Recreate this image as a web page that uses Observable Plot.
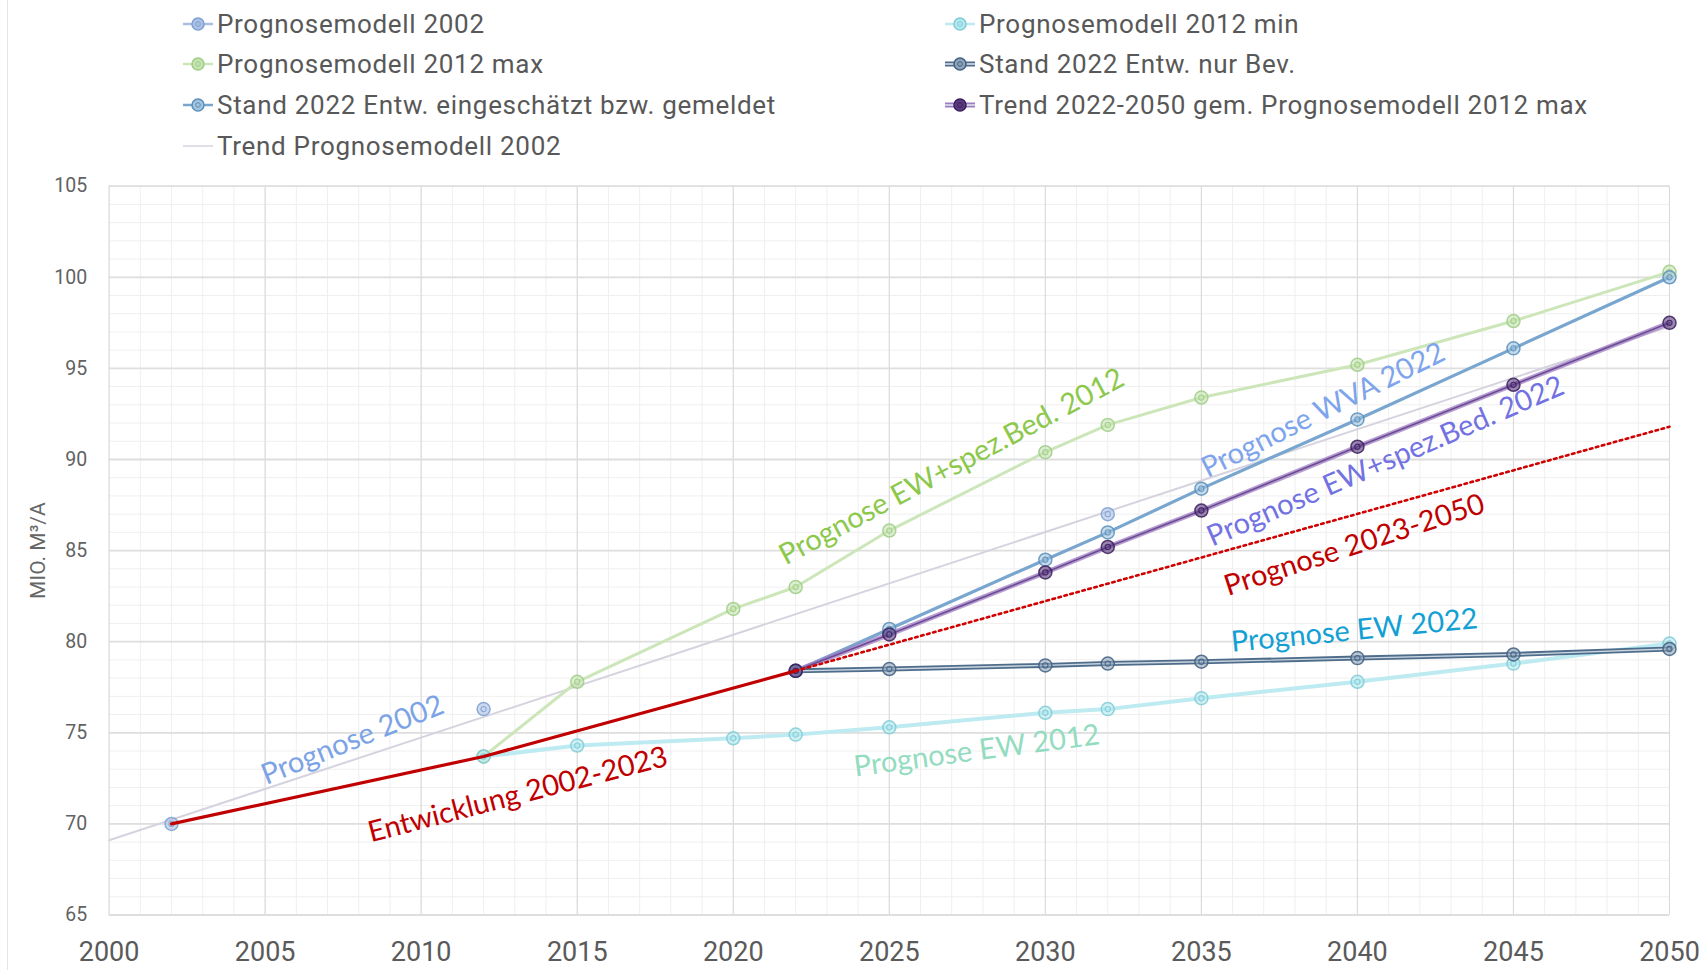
<!DOCTYPE html>
<html><head><meta charset="utf-8">
<script src="https://cdn.jsdelivr.net/npm/d3@7"></script>
<script src="https://cdn.jsdelivr.net/npm/@observablehq/plot@0.6"></script>
<style>
body{margin:0;background:#fff;width:1703px;height:970px;overflow:hidden;position:relative;font-family:Roboto,"Liberation Sans",sans-serif;}
#border{position:absolute;left:7px;top:0;width:1px;height:970px;background:#e4e4e4;}
#legend{position:relative;height:165px;}
.item{position:absolute;display:flex;align-items:center;font-size:26px;letter-spacing:0.7px;color:#585858;white-space:nowrap;height:36px;}
.item svg{margin-right:3px;flex:none}
#chart{position:relative}
</style></head><body>
<div id="border"></div>
<div id="legend"></div>
<div id="chart"></div>
<script>
// ---- data ----
const years2002 = [2002, 2012, 2032];
const model2002 = [70.0, 76.3, 87.0];

const years2012 = [2012, 2015, 2020, 2022, 2025, 2030, 2032, 2035, 2040, 2045, 2050];
const max2012 = [73.7, 77.8, 81.8, 83.0, 86.1, 90.4, 91.9, 93.4, 95.2, 97.6, 100.3];
const min2012 = [73.7, 74.3, 74.7, 74.9, 75.3, 76.1, 76.3, 76.9, 77.8, 78.8, 79.9];

const years2022 = [2022, 2025, 2030, 2032, 2035, 2040, 2045, 2050];
const nurBev = [78.4, 78.5, 78.7, 78.8, 78.9, 79.1, 79.3, 79.6];
const eingeschaetzt = [78.4, 80.7, 84.5, 86.0, 88.4, 92.2, 96.1, 100.0];
const trend2022 = [78.4, 80.4, 83.8, 85.2, 87.2, 90.7, 94.1, 97.5];

const trendYears2002 = [2000, 2050];
const trend2002 = [69.1, 97.3];

const entwYears = [2002, 2012, 2022];
const entwicklung = [70.0, 73.7, 78.4];
const progYears = [2022, 2050];
const prognose = [78.4, 91.8];

const xTicks = [2000, 2005, 2010, 2015, 2020, 2025, 2030, 2035, 2040, 2045, 2050];
const yTicks = [65, 70, 75, 80, 85, 90, 95, 100, 105];
const minorX = d3.range(2000, 2051);
const minorY = d3.range(65, 106);

const legendLabels = [
  "Prognosemodell 2002", "Prognosemodell 2012 min",
  "Prognosemodell 2012 max", "Stand 2022 Entw. nur Bev.",
  "Stand 2022 Entw. eingeschätzt bzw. gemeldet", "Trend 2022-2050 gem. Prognosemodell 2012 max",
  "Trend Prognosemodell 2002"
];

const annotations = [
  {label: "Prognose 2002", x: 2007.8, y: 74.6, angle: -22, color: "#7ba3e6"},
  {label: "Entwicklung 2002-2023", x: 2013.1, y: 71.6, angle: -14.5, color: "#c00000"},
  {label: "Prognose EW+spez.Bed. 2012", x: 2027.0, y: 89.6, angle: -28, color: "#8cc84b"},
  {label: "Prognose WVA 2022", x: 2038.9, y: 92.7, angle: -26.5, color: "#7ea4ec"},
  {label: "Prognose EW+spez.Bed. 2022", x: 2040.9, y: 89.9, angle: -23.5, color: "#7272e2"},
  {label: "Prognose 2023-2050", x: 2039.9, y: 85.3, angle: -18, color: "#c00000"},
  {label: "Prognose EW 2022", x: 2039.9, y: 80.6, angle: -5.5, color: "#12a0d4"},
  {label: "Prognose EW 2012", x: 2027.8, y: 74.0, angle: -7.5, color: "#93dcbf"}
];

const tbl = (xs, ys) => xs.map((year, i) => ({year, value: ys[i]}));
const d2002 = tbl(years2002, model2002);
const dMax = tbl(years2012, max2012);
const dMin = tbl(years2012, min2012);
const dBev = tbl(years2022, nurBev);
const dEin = tbl(years2022, eingeschaetzt);
const dTr22 = tbl(years2022, trend2022);
const dTr02 = tbl(trendYears2002, trend2002);
const dEntw = tbl(entwYears, entwicklung);
const dProg = tbl(progYears, prognose);

// ---- styles ----
const S = {
  m2002: {fill: "#aac1e4", stroke: "#7f9fd2", line: "#a9bfe2"},
  max: {fill: "#c6e4b2", stroke: "#9fcd85", line: "#cce6ba"},
  min: {fill: "#b3e8ee", stroke: "#80cbd6", line: "#bdebf1"},
  bev: {fill: "#8ea4ba", stroke: "#405f80", line: "#4f6d8b"},
  ein: {fill: "#a2c4df", stroke: "#5a8fba", line: "#78a6cf"},
  tr22: {fill: "#5b3a80", stroke: "#3a1e5c", line: "#9d7cc3"},
  tr02: {line: "#d6d3df"}
};

// ---- legend ----
const legend = document.getElementById("legend");
const legendDefs = [
  {label: legendLabels[0], s: S.m2002, col: 0, row: 0},
  {label: legendLabels[1], s: S.min, col: 1, row: 0},
  {label: legendLabels[2], s: S.max, col: 0, row: 1},
  {label: legendLabels[3], s: S.bev, col: 1, row: 1, dbl: true},
  {label: legendLabels[4], s: S.ein, col: 0, row: 2},
  {label: legendLabels[5], s: S.tr22, col: 1, row: 2, dbl: true},
  {label: legendLabels[6], s: S.tr02, col: 0, row: 3, nomark: true}
];
const rowY = [24, 64, 105, 145.5];
const colX = [182, 944];
for (const d of legendDefs) {
  const el = document.createElement("div");
  el.className = "item";
  el.style.left = colX[d.col] + "px";
  el.style.top = (rowY[d.row] - 18) + "px";
  let sw = `<svg width="32" height="20" viewBox="0 0 32 20">`;
  if (d.dbl) {
    sw += `<line x1="1" x2="31" y1="10" y2="10" stroke="${d.s.line}" stroke-width="5"/>`;
    sw += `<line x1="1" x2="31" y1="10" y2="10" stroke="#dfe6ee" stroke-width="1.5"/>`;
  } else {
    sw += `<line x1="1" x2="31" y1="10" y2="10" stroke="${d.s.line}" stroke-width="${d.nomark ? 1.5 : 2.5}"/>`;
  }
  if (!d.nomark) {
    sw += `<circle cx="16" cy="10" r="6" fill="${d.s.fill}" stroke="${d.s.stroke}" stroke-width="1.5"/>`;
    sw += `<circle cx="16" cy="10" r="2.3" fill="none" stroke="${d.s.stroke}" stroke-width="1"/>`;
  }
  sw += `</svg>`;
  el.innerHTML = sw + `<span>${d.label}</span>`;
  legend.appendChild(el);
}

// ---- chart ----
const dots = (data, s) => [
  Plot.dot(data, {x: "year", y: "value", r: 6.5, fill: s.fill, fillOpacity: 0.6, stroke: s.stroke, strokeWidth: 1.5, strokeOpacity: 0.85}),
  Plot.dot(data, {x: "year", y: "value", r: 2.6, fill: "none", stroke: s.stroke, strokeWidth: 1.1, strokeOpacity: 0.85})
];

const chart = Plot.plot({
  width: 1703,
  height: 805,
  marginTop: 20.7,
  marginBottom: 55.5,
  marginLeft: 108.6,
  marginRight: 34,
  style: {fontFamily: "Roboto, 'Liberation Sans', sans-serif", background: "transparent", overflow: "visible"},
  x: {domain: [2000, 2050]},
  y: {domain: [65, 105]},
  marks: [
    Plot.ruleX(minorX, {stroke: "#efefef", strokeWidth: 1}),
    Plot.ruleY(minorY, {stroke: "#efefef", strokeWidth: 1}),
    Plot.ruleX(xTicks, {stroke: "#dadada", strokeWidth: 1.1}),
    Plot.ruleY(yTicks, {stroke: "#dedede", strokeWidth: 1.8}),
    Plot.axisX({ticks: xTicks, tickSize: 0, tickPadding: 26.5, fontSize: 27, color: "#5a5a5a", tickFormat: d => String(d), label: null}),
    Plot.axisY({ticks: yTicks, tickSize: 0, tickPadding: 22, fontSize: 19.5, color: "#626262", label: null}),
    Plot.text(["MIO. M³/A"], {frameAnchor: "left", textAnchor: "middle", dx: -71, rotate: -90, fontSize: 21, fill: "#666", text: d => d, letterSpacing: "1.2px"}),

    Plot.line(dTr02, {x: "year", y: "value", stroke: S.tr02.line, strokeWidth: 2}),
    Plot.line(dMax, {x: "year", y: "value", stroke: S.max.line, strokeWidth: 3}),
    Plot.line(dMin, {x: "year", y: "value", stroke: S.min.line, strokeWidth: 4}),
    ...dots(dMax, S.max),
    ...dots(dMin, S.min),
    ...dots(d2002, S.m2002),
    Plot.line(dEin, {x: "year", y: "value", stroke: S.ein.line, strokeWidth: 3.2}),
    Plot.line(dTr22, {x: "year", y: "value", stroke: S.tr22.line, strokeWidth: 5, strokeOpacity: 0.75}),
    Plot.line(dTr22, {x: "year", y: "value", stroke: "#6d4b94", strokeWidth: 1.6}),
    Plot.line(dBev, {x: "year", y: "value", stroke: S.bev.line, strokeWidth: 5}),
    Plot.line(dBev, {x: "year", y: "value", stroke: "#c9d5e1", strokeWidth: 1.4}),
    ...dots(dEin, S.ein),
    ...dots(dBev, S.bev),
    ...dots(dTr22, S.tr22),

    Plot.line(dEntw, {x: "year", y: "value", stroke: "#c00000", strokeWidth: 3.2}),
    Plot.line(dProg, {x: "year", y: "value", stroke: "#d00000", strokeWidth: 2.6, strokeDasharray: "2.6,3.6"}),

    ...annotations.map(a => Plot.text([a], {x: "x", y: "y", text: "label", rotate: a.angle, fill: a.color, fontSize: 29, fontFamily: "Lato, sans-serif"}))
  ]
});
document.getElementById("chart").appendChild(chart);
</script></body></html>
